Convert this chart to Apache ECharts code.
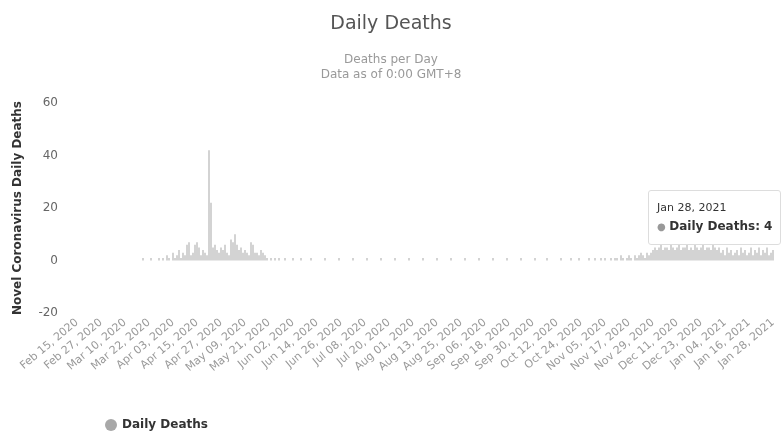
<!DOCTYPE html>
<html>
<head>
<meta charset="utf-8">
<script src="https://cdn.jsdelivr.net/npm/echarts@6/dist/echarts.min.js"></script>
<style>
  html, body { margin: 0; padding: 0; overflow: hidden; background: #fff; }
  #chart { width: 782px; height: 431px; }
</style>
</head>
<body>
<div id="chart"></div>
<script>
// daily categories, Feb 15 2020 .. Jan 28 2021
const startDate = new Date(Date.UTC(2020, 1, 15));
const dayCount = 349;
const monthNames = ['Jan','Feb','Mar','Apr','May','Jun','Jul','Aug','Sep','Oct','Nov','Dec'];
const categories = [];
for (let i = 0; i < dayCount; i++) {
  const d = new Date(startDate.getTime() + i * 86400000);
  const dd = String(d.getUTCDate()).padStart(2, '0');
  categories.push(monthNames[d.getUTCMonth()] + ' ' + dd + ', ' + d.getUTCFullYear());
}

// deaths per day
const dailyDeaths = [
  0,0,0,0,0,0,0,0,0,0, 0,0,0,0,0,0,0,0,0,0, 0,0,0,0,0,0,0,0,0,0,
  0,0,0,1,0,0,0,1,0,0, 0,1,0,1,0,2,1,0,3,1, 2,4,1,3,2,6,7,2,3,6,
  7,5,2,4,3,2,42,22,5,6, 4,3,5,4,6,3,2,8,7,10, 6,4,5,3,4,3,2,7,6,3,
  3,2,4,3,2,1,0,1,0,1, 0,1,0,0,1,0,0,0,1,0, 0,0,1,0,0,0,0,1,0,0,
  0,0,0,0,1,0,0,0,0,0, 0,1,0,0,0,0,0,0,1,0, 0,0,0,0,0,1,0,0,0,0,
  0,0,1,0,0,0,0,0,0,1, 0,0,0,0,0,0,1,0,0,0, 0,0,0,1,0,0,0,0,0,0,
  1,0,0,0,0,0,0,1,0,0, 0,0,0,0,1,0,0,0,0,0, 0,1,0,0,0,0,0,0,1,0,
  0,0,0,0,0,1,0,0,0,0, 0,0,1,0,0,0,0,0,0,1, 0,0,0,0,0,1,0,0,0,0,
  0,0,1,0,0,0,0,1,0,0, 0,1,0,0,0,0,1,0,0,1, 0,0,1,0,1,0,0,1,0,1,
  1,0,2,1,0,1,2,1,0,2, 1,2,3,2,1,3,2,3,4,5, 4,5,6,4,5,5,4,6,5,4,
  5,6,4,5,5,6,4,5,4,6, 5,4,5,6,4,5,5,4,6,5, 4,5,3,4,2,5,3,4,2,3,
  4,2,5,3,4,2,3,5,2,4, 3,5,2,4,3,5,2,3,4
];

const yTicks = { min: -20, max: 60, step: 20 };
const seriesName = 'Daily Deaths';

const myChart = echarts.init(document.getElementById('chart'));
const font = 'DejaVu Sans, sans-serif';
const option = {
  animation: false,
  title: {
    text: 'Daily Deaths',
    subtext: 'Deaths per Day\nData as of 0:00 GMT+8',
    left: 'center',
    top: 10,
    itemGap: 18,
    textStyle: { color: '#555', fontSize: 19, fontWeight: 'normal', fontFamily: font },
    subtextStyle: { color: '#999', fontSize: 12, lineHeight: 15, fontFamily: font }
  },
  legend: {
    left: 100,
    top: 414,
    icon: 'circle',
    itemWidth: 12,
    itemHeight: 12,
    data: [seriesName],
    textStyle: { color: '#333', fontSize: 12, fontWeight: 'bold', fontFamily: font }
  },
  tooltip: {
    trigger: 'item',
    triggerOn: 'none',
    alwaysShowContent: true,
    backgroundColor: 'rgba(255,255,255,0.9)',
    borderColor: '#ddd',
    borderWidth: 1,
    padding: [8, 8],
    extraCssText: 'box-shadow:none;border-radius:3px;',
    position: [648, 190],
    formatter: function (p) {
      return '<div style="font-family:DejaVu Sans;font-size:11px;color:#333;line-height:18px">' +
        p.name + '<br/><span style="color:#999;font-size:10px">\u25CF</span> ' +
        '<span style="font-size:12px;font-weight:bold">' + p.seriesName + ': ' + p.value + '</span></div>';
    }
  },
  grid: { left: 76, right: 8, top: 103, bottom: 118 },
  xAxis: {
    type: 'category',
    data: categories,
    axisLine: { show: false },
    axisTick: { show: false },
    axisLabel: {
      interval: 11,
      rotate: 40,
      margin: 8,
      color: '#999',
      fontSize: 11,
      fontFamily: font
    }
  },
  yAxis: {
    type: 'value',
    min: yTicks.min,
    max: yTicks.max,
    interval: yTicks.step,
    name: 'Novel Coronavirus Daily Deaths',
    nameLocation: 'middle',
    nameGap: 52,
    nameTextStyle: { color: '#333', fontSize: 12, fontWeight: 'bold', fontFamily: font },
    axisLine: { show: false },
    axisTick: { show: false },
    splitLine: { show: false },
    axisLabel: { color: '#666', fontSize: 12, margin: 18, fontFamily: font }
  },
  series: [
    {
      name: seriesName,
      type: 'bar',
      data: dailyDeaths,
      barWidth: 1,
      itemStyle: { color: '#a8a8a8' }
    }
  ]
};
option && myChart.setOption(option);
myChart.dispatchAction({ type: 'showTip', seriesIndex: 0, dataIndex: dayCount - 1 });
</script>
</body>
</html>
